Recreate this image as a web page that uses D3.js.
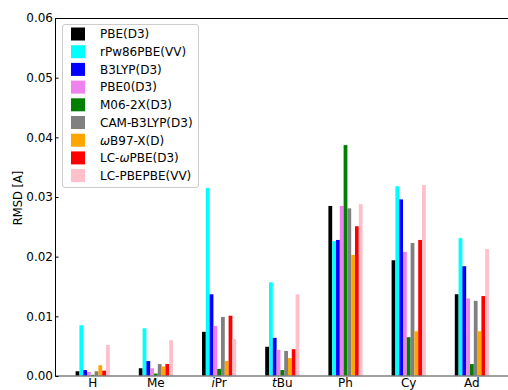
<!DOCTYPE html>
<html><head><meta charset="utf-8">
<script src="https://cdn.jsdelivr.net/npm/d3@7"></script>
<style>body{margin:0;background:#fff}svg{display:block;font-family:"DejaVu Sans",sans-serif}</style>
</head><body><svg id="c" width="508" height="390"></svg>
<script>
const categories = ["H","Me","iPr","tBu","Ph","Cy","Ad"];
const seriesNames = ["PBE(D3)","rPw86PBE(VV)","B3LYP(D3)","PBE0(D3)","M06-2X(D3)","CAM-B3LYP(D3)","ωB97-X(D)","LC-ωPBE(D3)","LC-PBEPBE(VV)"];
const colors = ["#000000","#00ffff","#0000ff","#ee82ee","#008000","#808080","#ffa500","#ff0000","#ffc0cb"];
const PBE_D3      = [0.0008,0.0013,0.0074,0.0049,0.0285,0.0194,0.0137];
const rPw86PBE_VV = [0.0085,0.0080,0.0315,0.0157,0.0226,0.0318,0.0231];
const B3LYP_D3    = [0.0010,0.0025,0.0137,0.0064,0.0228,0.0296,0.0184];
const PBE0_D3     = [0.0007,0.0013,0.0084,0.0044,0.0285,0.0208,0.0130];
const M062X_D3    = [0.0002,0.0004,0.0012,0.0010,0.0387,0.0065,0.0020];
const CAMB3LYP_D3 = [0.0008,0.0020,0.0099,0.0042,0.0281,0.0223,0.0126];
const wB97XD      = [0.0018,0.0016,0.0025,0.0030,0.0203,0.0075,0.0075];
const LCwPBE_D3   = [0.0009,0.0020,0.0101,0.0045,0.0251,0.0228,0.0134];
const LCPBEPBE_VV = [0.0052,0.0060,0.0062,0.0137,0.0288,0.0320,0.0213];
const series = [PBE_D3,rPw86PBE_VV,B3LYP_D3,PBE0_D3,M062X_D3,CAMB3LYP_D3,wB97XD,LCwPBE_D3,LCPBEPBE_VV];
const yTicks = [0,0.01,0.02,0.03,0.04,0.05,0.06];

const svg = d3.select("#c");
const L=55, R=509, T=18, B=376;
const x0 = d3.scalePoint().domain(categories).range([92.7, 92.7+63.2*6]);
const bw = 3.8;
const x1 = d3.scaleLinear().domain([0,8]).range([-4*bw, 4*bw]);
const y = d3.scaleLinear().domain([0,0.06]).range([B,T]);

// bars
series.forEach((vals,si)=>{
  svg.append("g").selectAll("rect").data(vals).join("rect")
    .attr("x",(d,i)=>x0(categories[i])+x1(si)-bw/2)
    .attr("width",bw)
    .attr("y",d=>y(d))
    .attr("height",d=>B-y(d))
    .attr("fill",colors[si]);
});

// spines
svg.append("line").attr("x1",L).attr("x2",R).attr("y1",T+0.5).attr("y2",T+0.5).attr("stroke","#000").attr("stroke-width",1);
svg.append("line").attr("x1",L).attr("x2",R).attr("y1",B).attr("y2",B).attr("stroke","#808080").attr("stroke-width",1.5);
svg.append("line").attr("x1",L+0.5).attr("x2",L+0.5).attr("y1",T).attr("y2",B+0.5).attr("stroke","#000").attr("stroke-width",1);

// y axis
const ya = svg.append("g").attr("transform",`translate(${L+0.5},0)`)
  .call(d3.axisLeft(y).tickValues(yTicks).tickFormat(d3.format(".2f")).tickSize(-3).tickPadding(2.5));
ya.select(".domain").remove();
ya.selectAll("text").attr("font-size",12).attr("fill","#000").attr("font-family","DejaVu Sans");
ya.selectAll("line").attr("stroke","#000");

svg.append("text").attr("transform",`translate(22,198) rotate(-90)`).attr("text-anchor","middle")
  .attr("font-size",11.5).text("RMSD [A]");

// x labels
const xl = svg.append("g").selectAll("text").data(categories).join("text")
  .attr("x",d=>x0(d)).attr("y",B+11).attr("text-anchor","middle").attr("font-size",12);
xl.each(function(d){
  const t=d3.select(this);
  if(d==="iPr"){t.append("tspan").attr("font-style","italic").text("i");t.append("tspan").text("Pr");}
  else if(d==="tBu"){t.append("tspan").attr("font-style","italic").text("t");t.append("tspan").text("Bu");}
  else t.text(d);
});

// legend
const lg = svg.append("g");
lg.append("rect").attr("x",62.5).attr("y",24.5).attr("width",136).attr("height",163).attr("rx",2.5)
  .attr("fill","#fff").attr("fill-opacity",0.8).attr("stroke","#cccccc");
seriesNames.forEach((n,i)=>{
  const cy = 34 + i*17.7;
  lg.append("rect").attr("x",71).attr("y",cy-6.5).attr("width",14).attr("height",13).attr("fill",colors[i]);
  const t = lg.append("text").attr("x",100).attr("y",cy+4.3).attr("font-size",12);
  const parts = n.split("ω");
  parts.forEach((p,k)=>{
    if(k>0) t.append("tspan").attr("font-style","italic").text("ω");
    t.append("tspan").text(p);
  });
});
</script></body></html>
